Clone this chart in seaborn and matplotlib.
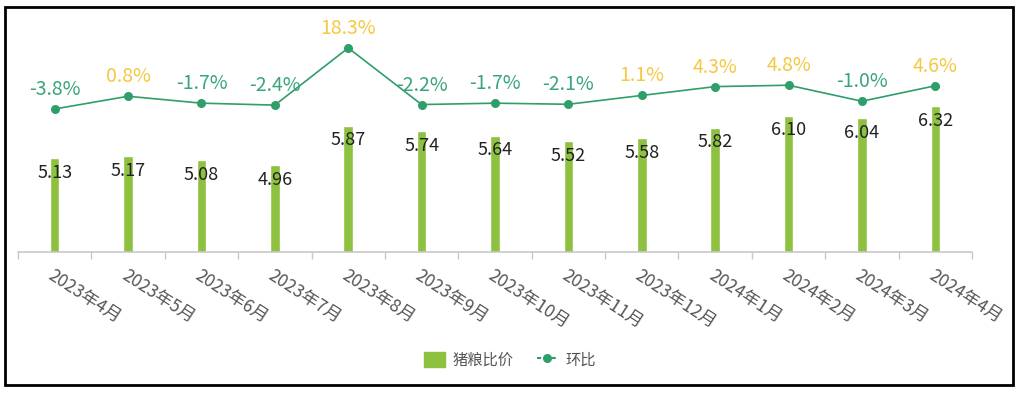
import matplotlib
matplotlib.use("Agg")
import matplotlib.pyplot as plt
import seaborn as sns
import pandas as pd
import numpy as np
from matplotlib.patches import Rectangle
from matplotlib.lines import Line2D
from matplotlib.patches import Patch

months = ["2023年4月", "2023年5月", "2023年6月", "2023年7月", "2023年8月", "2023年9月",
          "2023年10月", "2023年11月", "2023年12月", "2024年1月", "2024年2月", "2024年3月", "2024年4月"]
ratio = [5.13, 5.17, 5.08, 4.96, 5.87, 5.74, 5.64, 5.52, 5.58, 5.82, 6.10, 6.04, 6.32]
mom = [-3.8, 0.8, -1.7, -2.4, 18.3, -2.2, -1.7, -2.1, 1.1, 4.3, 4.8, -1.0, 4.6]

sns.set_theme(style="white")
plt.rcParams['font.family'] = ['Noto Sans CJK SC', 'DejaVu Sans']

BAR = "#8dc13f"
LINE = "#2e9e6a"
NEG = "#3aa57a"
POS = "#f5c842"

df = pd.DataFrame({"month": months, "ratio": ratio, "mom": mom})
df["x"] = np.arange(len(months))

fig = plt.figure(figsize=(10.26, 3.95), dpi=100)
ax = fig.add_axes([18/1026, 143/395, (972-18)/1026, (252-30)/395])

sns.barplot(data=df, x="month", y="ratio", color=BAR, width=0.13, ax=ax, saturation=1)
ax.set_xlim(-0.5, len(months) - 0.5)
ax.set_ylim(2.98, 8.06)
for i, v in enumerate(ratio):
    ax.annotate(f"{v:.2f}", (i, v), xytext=(0, -10.5), textcoords="offset points",
                ha="center", va="center", fontsize=13, color="#222222", zorder=5)

ax.set_xlabel("")
ax.set_ylabel("")
ax.set_yticks([])
for s in ["top", "right", "left"]:
    ax.spines[s].set_visible(False)
ax.spines["bottom"].set_color("#c8c8c8")
ax.spines["bottom"].set_linewidth(1.2)
ax.set_xticks(range(len(months)))
ax.set_xticklabels(months, rotation=-33, ha="left", va="top", rotation_mode="anchor",
                   fontsize=12.5, color="#555555")
ax.tick_params(axis="x", which="major", length=0, pad=10)
ax.set_xticks(np.arange(-0.5, len(months)), minor=True)
ax.tick_params(axis="x", which="minor", length=5, color="#c8c8c8", width=1, direction="out")
ax.xaxis.set_tick_params(which="minor", bottom=True)

ax2 = ax.twinx()
sns.lineplot(data=df, x="x", y="mom", color=LINE, marker="o", markersize=6.5,
             markeredgewidth=0, linewidth=1.2, ax=ax2)
ax2.set_xlim(-0.5, len(months) - 0.5)
ax2.set_ylim(-55.6, 24.8)
ax2.set_yticks([])
ax2.set_ylabel("")
ax2.set_xlabel("")
for s in ["top", "right", "left", "bottom"]:
    ax2.spines[s].set_visible(False)
for i, v in enumerate(mom):
    ax2.annotate(f"{v:.1f}%", (i, v), xytext=(0, 14), textcoords="offset points",
                 ha="center", va="center", fontsize=14,
                 color=POS if v > 0 else NEG)

handles = [Patch(facecolor=BAR, edgecolor=BAR),
           Line2D([0], [0], color=LINE, marker="o", markersize=6.5, linestyle=(0, (2, 1.5)),
                  linewidth=1.5, markeredgewidth=0)]
leg = fig.legend(handles, ["猪粮比价", "环比"], loc="center", ncol=2,
                 bbox_to_anchor=(510/1026, 1 - 360/395), frameon=False,
                 fontsize=11, handlelength=1.4, handleheight=1.2, columnspacing=1.5,
                 handletextpad=0.5)
for t in leg.get_texts():
    t.set_color("#555555")

fig.patches.append(Rectangle((5/1026, 1 - 385/395), (1013-5)/1026, (385-7)/395,
                             transform=fig.transFigure, fill=False, edgecolor="black",
                             linewidth=2, zorder=10))

fig.savefig("out.png", dpi=100, facecolor="white")
